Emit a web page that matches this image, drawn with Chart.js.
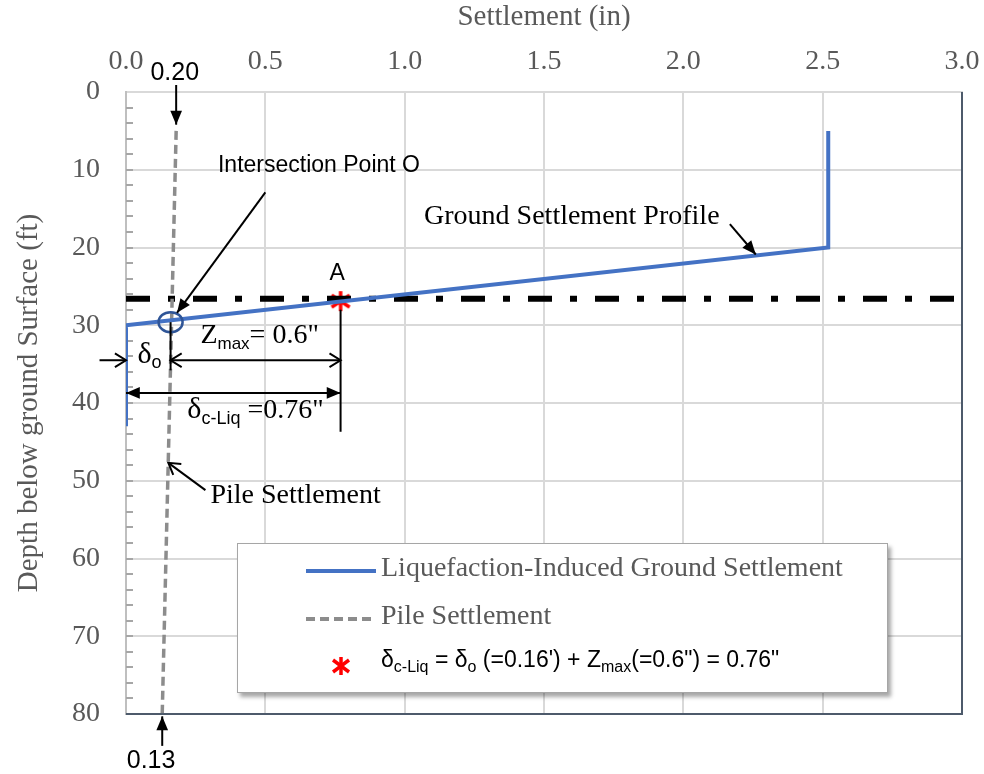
<!DOCTYPE html>
<html>
<head>
<meta charset="utf-8">
<script src="https://cdn.jsdelivr.net/npm/chart.js@4.4.1/dist/chart.umd.min.js"></script>
<style>
body { margin: 0; background: #fff; }
#wrap { position: relative; width: 984px; height: 774px; }
#legend {
    position: absolute; left: 237px; top: 543px; width: 651px; height: 150px;
    box-sizing: border-box; background: #fff; border: 1px solid #a6a6a6;
    box-shadow: 3px 4px 4px rgba(0, 0, 0, 0.35);
}
#legend .row { position: absolute; left: 0; height: 40px; width: 100%; }
#legend svg { position: absolute; left: 60px; top: 0; }
#legend .txt { position: absolute; left: 143px; top: 0; line-height: 40px; white-space: nowrap; }
#legend .serif { font: 28px "Liberation Serif", "Times New Roman", serif; color: #595959; }
#legend .sans { font: 23px "Liberation Sans", Arial, sans-serif; color: #000; }
#legend sub { font-size: 16px; vertical-align: -5px; }
</style>
</head>
<body>
<div id="wrap">
    <canvas id="myChart" width="984" height="774"></canvas>
    <div id="legend">
        <div class="row" style="top:7px">
            <svg width="80" height="40"><line x1="8" y1="20" x2="78" y2="20" stroke="#4472C4" stroke-width="4"/></svg>
            <div class="txt serif" id="lg0"></div>
        </div>
        <div class="row" style="top:55px">
            <svg width="80" height="40"><line x1="8" y1="20" x2="78" y2="20" stroke="#8c8c8c" stroke-width="4" stroke-dasharray="9,5"/></svg>
            <div class="txt serif" id="lg1"></div>
        </div>
        <div class="row" style="top:102px">
            <svg width="80" height="40"><g stroke="#ff0000" stroke-width="3.5"><line x1="43" y1="11" x2="43" y2="29"/><line x1="35" y1="14" x2="51" y2="26"/><line x1="35" y1="26" x2="51" y2="14"/></g></svg>
            <div class="txt sans">δ<sub>c-Liq</sub> = δ<sub>o</sub> (=0.16') + Z<sub>max</sub>(=0.6") = 0.76"</div>
        </div>
    </div>
</div>
<script>
// data
const settlementTicks = [0, 0.5, 1.0, 1.5, 2.0, 2.5, 3.0];
const depthTicks = [0, 10, 20, 30, 40, 50, 60, 70, 80];

const groundSettlement = [2.52, 2.52, 0.0, 0.0];
const groundDepth = [5, 20, 30, 43];

const pileSettlement = [0.18, 0.13];
const pileDepth = [5, 80];

const levelSettlement = [0, 3];
const levelDepth = [26.6, 26.6];

const pointA = [0.77];
const pointADepth = [26.9];

// annotations in data units: [x1, depth1, x2, depth2, startHead, endHead]
const arrowLines = [
    [0.50, 12.9, 0.183, 28.4, null, 'filled'],
    [2.167, 17.0, 2.26, 20.9, null, 'filled'],
    [0.285, 51.2, 0.152, 47.7, null, 'open'],
    [0.18, -0.9, 0.18, 4.2, null, 'filled'],
    [0.13, 84.1, 0.13, 80.3, null, 'filled'],
    [-0.095, 34.5, 0.0, 34.5, null, 'open'],
    [0.16, 34.5, 0.77, 34.5, 'open', 'open'],
    [0.0, 38.7, 0.77, 38.7, 'filled', 'filled']
];
const plainLines = [
    [0.16, 29.6, 0.16, 35.8],
    [0.77, 28.0, 0.77, 43.7]
];
const SERIF = '"Liberation Serif", "Times New Roman", serif';
const SANS = '"Liberation Sans", Arial, sans-serif';
// [x, depth, align, parts[text, font, shift]]
const notes = [
    [0.33, 10.3, 'left', [['Intersection Point O', '23px ' + SANS, 0]]],
    [2.13, 17.0, 'right', [['Ground Settlement Profile', '28px ' + SERIF, 0]]],
    [0.303, 52.9, 'left', [['Pile Settlement', '28px ' + SERIF, 0]]],
    [0.758, 24.2, 'center', [['A', '23px ' + SANS, 0]]],
    [0.267, 32.3, 'left', [['Z', '28px ' + SERIF, 0], ['max', '17px ' + SANS, 6], ['= 0.6"', '28px ' + SERIF, 0]]],
    [0.041, 34.9, 'left', [['δ', '30px ' + SERIF, 0], ['o', '18px ' + SANS, 5]]],
    [0.22, 41.9, 'left', [['δ', '30px ' + SERIF, 0], ['c-Liq', '18px ' + SANS, 6], [' =0.76"', '28px ' + SERIF, 0]]],
    [0.175, -1.5, 'center', [['0.20', '25px ' + SANS, 0]]],
    [0.09, 86.9, 'center', [['0.13', '25px ' + SANS, 0]]]
];

function toPoints(xs, ys) {
    return xs.map((v, i) => ({ x: v, y: ys[i] }));
}

function starImage() {
    const c = document.createElement('canvas');
    c.width = 22; c.height = 22;
    const g = c.getContext('2d');
    g.strokeStyle = '#ff0000';
    g.lineWidth = 3.5;
    g.beginPath();
    g.moveTo(11, 1); g.lineTo(11, 21);
    g.moveTo(2, 5); g.lineTo(20, 17);
    g.moveTo(2, 17); g.lineTo(20, 5);
    g.stroke();
    return c;
}

function drawHead(ctx, x1, y1, x2, y2, kind) {
    const ang = Math.atan2(y2 - y1, x2 - x1);
    const len = kind === 'open' ? 13 : 15;
    const half = kind === 'open' ? 0.55 : 0.4;
    const p1 = [x2 - len * Math.cos(ang - half), y2 - len * Math.sin(ang - half)];
    const p2 = [x2 - len * Math.cos(ang + half), y2 - len * Math.sin(ang + half)];
    ctx.beginPath();
    if (kind === 'open') {
        ctx.moveTo(p1[0], p1[1]); ctx.lineTo(x2, y2); ctx.lineTo(p2[0], p2[1]);
        ctx.stroke();
    } else {
        ctx.moveTo(x2, y2); ctx.lineTo(p1[0], p1[1]); ctx.lineTo(p2[0], p2[1]);
        ctx.closePath();
        ctx.fill();
    }
}

const overlay = {
    id: 'overlay',
    beforeDatasetsDraw(chart) {
        const { ctx, chartArea: a, scales: { y } } = chart;
        ctx.save();
        ctx.strokeStyle = '#a6a6a6';
        ctx.lineWidth = 2;
        ctx.beginPath();
        for (let d = 2; d < 80; d += 2) {
            const py = Math.round(y.getPixelForValue(d));
            ctx.moveTo(a.left, py); ctx.lineTo(a.left + 7, py);
        }
        ctx.stroke();
        ctx.restore();
    },
    afterDatasetsDraw(chart) {
        const { ctx, chartArea: a, scales: { x, y } } = chart;
        ctx.save();
        // plot frame, right and bottom
        ctx.strokeStyle = '#4d5a6b';
        ctx.lineWidth = 2;
        ctx.beginPath();
        ctx.moveTo(a.right, a.top); ctx.lineTo(a.right, a.bottom); ctx.lineTo(a.left, a.bottom);
        ctx.stroke();

        // intersection point O
        ctx.strokeStyle = '#2f5597';
        ctx.lineWidth = 2.5;
        ctx.beginPath();
        ctx.ellipse(x.getPixelForValue(0.16), y.getPixelForValue(29.6), 12, 10, 0, 0, Math.PI * 2);
        ctx.stroke();

        ctx.strokeStyle = '#000';
        ctx.fillStyle = '#000';
        ctx.lineWidth = 2;
        plainLines.forEach(l => {
            ctx.beginPath();
            ctx.moveTo(x.getPixelForValue(l[0]), y.getPixelForValue(l[1]));
            ctx.lineTo(x.getPixelForValue(l[2]), y.getPixelForValue(l[3]));
            ctx.stroke();
        });
        arrowLines.forEach(l => {
            const x1 = x.getPixelForValue(l[0]), y1 = y.getPixelForValue(l[1]);
            const x2 = x.getPixelForValue(l[2]), y2 = y.getPixelForValue(l[3]);
            ctx.beginPath();
            ctx.moveTo(x1, y1); ctx.lineTo(x2, y2);
            ctx.stroke();
            if (l[4]) drawHead(ctx, x2, y2, x1, y1, l[4]);
            if (l[5]) drawHead(ctx, x1, y1, x2, y2, l[5]);
        });

        // labels
        ctx.textBaseline = 'alphabetic';
        ctx.textAlign = 'left';
        notes.forEach(n => {
            let total = 0;
            n[3].forEach(p => { ctx.font = p[1]; total += ctx.measureText(p[0]).width; });
            let px = x.getPixelForValue(n[0]);
            if (n[2] === 'center') px -= total / 2;
            if (n[2] === 'right') px -= total;
            const py = y.getPixelForValue(n[1]);
            n[3].forEach(p => {
                ctx.font = p[1];
                ctx.fillText(p[0], px, py + p[2]);
                px += ctx.measureText(p[0]).width;
            });
        });
        ctx.restore();
    }
};

const ctx = document.getElementById('myChart').getContext('2d');
const myChart = new Chart(ctx, {
    type: 'scatter',
    data: {
        datasets: [
            {
                label: 'Liquefaction-Induced Ground Settlement',
                data: toPoints(groundSettlement, groundDepth),
                showLine: true,
                borderColor: '#4472C4',
                borderWidth: 4,
                pointRadius: 0
            },
            {
                label: 'Pile Settlement',
                data: toPoints(pileSettlement, pileDepth),
                showLine: true,
                borderColor: '#8c8c8c',
                borderWidth: 3.5,
                borderDash: [9, 5],
                pointRadius: 0
            },
            {
                label: 'level',
                data: toPoints(levelSettlement, levelDepth),
                showLine: true,
                borderColor: '#000',
                borderWidth: 6,
                borderDash: [24, 18, 7, 18],
                pointRadius: 0
            },
            {
                label: 'A',
                data: toPoints(pointA, pointADepth),
                pointStyle: starImage(),
                pointRadius: 11
            }
        ]
    },
    options: {
        responsive: false,
        animation: false,
        layout: { padding: { left: 0, top: 0, right: 22, bottom: 60 } },
        plugins: {
            legend: { display: false },
            tooltip: { enabled: false }
        },
        scales: {
            x: {
                type: 'linear',
                position: 'top',
                min: 0,
                max: 3,
                afterBuildTicks: s => { s.ticks = settlementTicks.map(v => ({ value: v })); },
                afterFit: s => { s.height = 92; s.paddingLeft = 0; s.paddingRight = 0; },
                ticks: {
                    callback: v => v.toFixed(1),
                    color: '#595959',
                    font: { family: SERIF, size: 28 },
                    padding: 14,
                    maxRotation: 0
                },
                grid: { color: '#d9d9d9', lineWidth: 2, drawTicks: false },
                border: { color: '#d9d9d9', width: 2 },
                title: {
                    display: true,
                    text: 'Settlement (in)',
                    color: '#595959',
                    font: { family: SERIF, size: 29 },
                    padding: { top: 0, bottom: 0 }
                }
            },
            y: {
                type: 'linear',
                reverse: true,
                min: 0,
                max: 80,
                afterBuildTicks: s => { s.ticks = depthTicks.map(v => ({ value: v })); },
                afterFit: s => { s.width = 126; s.paddingTop = 0; s.paddingBottom = 0; },
                ticks: {
                    color: '#595959',
                    font: { family: SERIF, size: 28 },
                    padding: 26
                },
                grid: { color: '#d9d9d9', lineWidth: 2, drawTicks: false },
                border: { color: '#bfbfbf', width: 2 },
                title: {
                    display: true,
                    text: 'Depth below ground Surface (ft)',
                    color: '#595959',
                    font: { family: SERIF, size: 29 },
                    padding: { top: 12, bottom: 0 }
                }
            }
        }
    },
    plugins: [overlay]
});

document.getElementById('lg0').textContent = myChart.data.datasets[0].label;
document.getElementById('lg1').textContent = myChart.data.datasets[1].label;
</script>
</body>
</html>
